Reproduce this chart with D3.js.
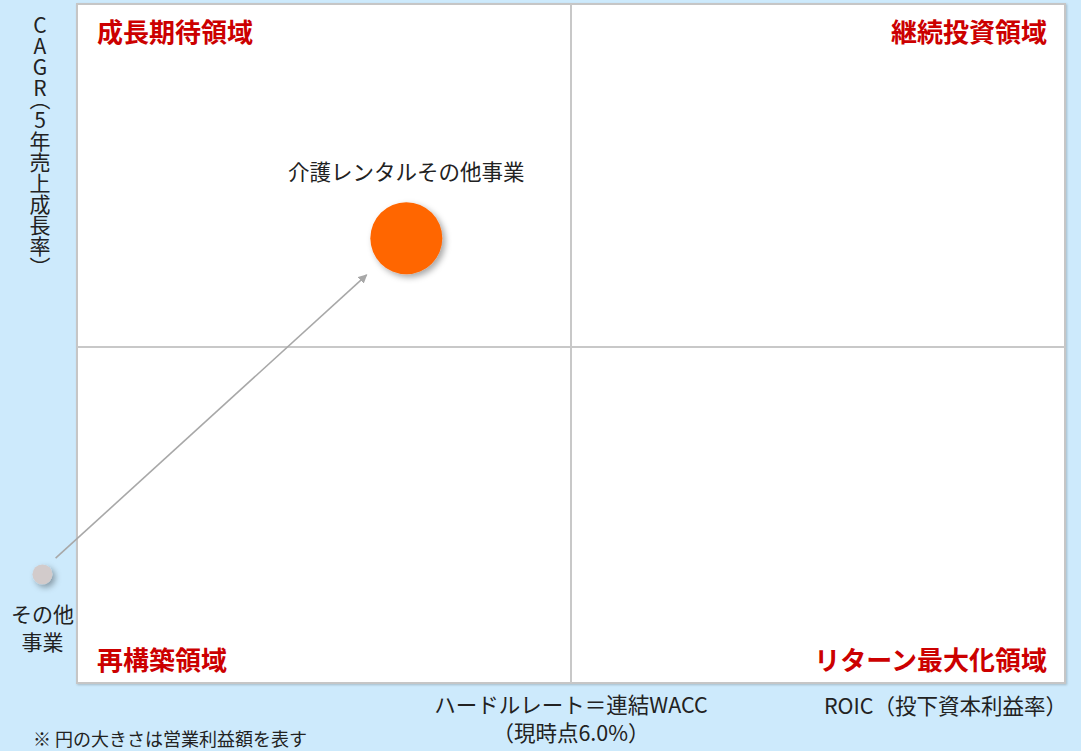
<!DOCTYPE html>
<html lang="ja">
<head>
<meta charset="utf-8">
<script src="https://cdn.jsdelivr.net/npm/d3@7/dist/d3.min.js"></script>
<style>
  html, body { margin: 0; padding: 0; background: #cdeafc; }
  svg { display: block; font-family: "Noto Sans CJK JP", "Noto Sans", sans-serif; }
</style>
</head>
<body>
<svg id="chart" width="1081" height="751"></svg>
<script>
// Business portfolio: ROIC vs. 5-year revenue CAGR, bubble size = operating profit
const segmentNames = ["その他事業", "介護レンタルその他事業"];
const segmentLabels = [["その他", "事業"], ["介護レンタルその他事業"]];
const roicValues = [-0.42, 4.0];        // ROIC (%)
const cagrValues = [3.2, 13.1];         // CAGR (%)
const profitValues = [1, 13];           // operating profit (relative)
const segmentColors = ["#d2cbcb", "#ff6600"];

const hurdleRate = 6.0;                 // WACC threshold on the ROIC axis
const growthThreshold = 9.9;            // CAGR threshold

const quadrantLabels = ["成長期待領域", "継続投資領域", "再構築領域", "リターン最大化領域"];
const xTitle = "ROIC（投下資本利益率）";
const yTitle = "CAGR（5年売上成長率）";
const hurdleLabel = ["ハードルレート＝連結WACC", "（現時点6.0%）"];
const footnote = "※ 円の大きさは営業利益額を表す";

const svg = d3.select("#chart");
const plot = { left: 77, top: 4, right: 1065, bottom: 683 };

const x = d3.scaleLinear().domain([0, 12]).range([plot.left, plot.right]);
const y = d3.scaleLinear().domain([0, 20]).range([plot.bottom, plot.top]);
const r = d3.scaleSqrt().domain([0, d3.max(profitValues)]).range([0, 36]);

const defs = svg.append("defs");
const sh = defs.append("filter").attr("id", "shadow")
  .attr("x", "-50%").attr("y", "-50%").attr("width", "200%").attr("height", "200%");
sh.append("feDropShadow").attr("dx", 3).attr("dy", 3).attr("stdDeviation", 3)
  .attr("flood-color", "#000").attr("flood-opacity", 0.35);
const boxSh = defs.append("filter").attr("id", "boxShadow")
  .attr("x", "-5%").attr("y", "-5%").attr("width", "110%").attr("height", "110%");
boxSh.append("feDropShadow").attr("dx", 1).attr("dy", 1).attr("stdDeviation", 1.2)
  .attr("flood-color", "#000").attr("flood-opacity", 0.2);

defs.append("marker").attr("id", "arrowHead")
  .attr("viewBox", "0 0 10 10").attr("refX", 9).attr("refY", 5)
  .attr("markerWidth", 9).attr("markerHeight", 9).attr("orient", "auto")
  .attr("markerUnits", "userSpaceOnUse")
  .append("path").attr("d", "M0,0 L10,5 L0,10 z").attr("fill", "#a8a8a8");

// plot area
svg.append("rect")
  .attr("x", plot.left).attr("y", plot.top)
  .attr("width", plot.right - plot.left).attr("height", plot.bottom - plot.top)
  .attr("fill", "#fff").attr("stroke", "#c6c6c6").attr("stroke-width", 2)
  .attr("filter", "url(#boxShadow)");

// quadrant dividers
svg.append("line")
  .attr("x1", x(hurdleRate)).attr("x2", x(hurdleRate))
  .attr("y1", plot.top).attr("y2", plot.bottom)
  .attr("stroke", "#c8c8c8").attr("stroke-width", 2);
svg.append("line")
  .attr("x1", plot.left).attr("x2", plot.right)
  .attr("y1", y(growthThreshold)).attr("y2", y(growthThreshold))
  .attr("stroke", "#c8c8c8").attr("stroke-width", 2);

// quadrant names
const qPos = [
  { x: plot.left + 20, y: 42, anchor: "start" },
  { x: plot.right - 18, y: 42, anchor: "end" },
  { x: plot.left + 20, y: 670, anchor: "start" },
  { x: plot.right - 18, y: 670, anchor: "end" }
];
svg.selectAll("text.quad").data(quadrantLabels).join("text")
  .attr("class", "quad")
  .attr("x", (d, i) => qPos[i].x).attr("y", (d, i) => qPos[i].y)
  .attr("text-anchor", (d, i) => qPos[i].anchor)
  .attr("font-size", 26).attr("font-weight", "bold").attr("fill", "#cc0000")
  .text(d => d);

// movement arrow from the previous position to the current one
const p0 = [x(roicValues[0]), y(cagrValues[0])];
const p1 = [x(roicValues[1]), y(cagrValues[1])];
const dx = p1[0] - p0[0], dy = p1[1] - p0[1];
const len = Math.hypot(dx, dy), ux = dx / len, uy = dy / len;
const s0 = r(profitValues[0]) + 8, s1 = r(profitValues[1]) + 18;
svg.append("line")
  .attr("x1", p0[0] + ux * s0).attr("y1", p0[1] + uy * s0 - 4)
  .attr("x2", p1[0] - ux * s1).attr("y2", p1[1] - uy * s1)
  .attr("stroke", "#a8a8a8").attr("stroke-width", 1.6)
  .attr("marker-end", "url(#arrowHead)");

// bubbles
const pts = segmentNames.map((n, i) => ({
  name: n, roic: roicValues[i], cagr: cagrValues[i], profit: profitValues[i],
  color: segmentColors[i], label: segmentLabels[i]
}));
svg.selectAll("circle.bubble").data(pts).join("circle")
  .attr("class", "bubble")
  .attr("cx", d => x(d.roic)).attr("cy", d => y(d.cagr))
  .attr("r", d => r(d.profit))
  .attr("fill", d => d.color)
  .attr("filter", "url(#shadow)");

// bubble labels
const small = pts[0];
small.label.forEach((line, i) => {
  svg.append("text")
    .attr("x", x(small.roic)).attr("y", y(small.cagr) + 48 + i * 28)
    .attr("text-anchor", "middle").attr("font-size", 21).attr("fill", "#222")
    .text(line);
});
const big = pts[1];
svg.append("text")
  .attr("x", x(big.roic)).attr("y", y(big.cagr) - 58)
  .attr("text-anchor", "middle").attr("font-size", 21.5).attr("fill", "#222")
  .text(big.label[0]);

// vertical axis title
svg.append("text")
  .attr("x", 40).attr("y", 15)
  .attr("font-size", 21).attr("fill", "#222")
  .style("writing-mode", "vertical-rl")
  .style("text-orientation", "upright")
  .style("font-feature-settings", "'vhal' 1")
  .text(yTitle);

// horizontal axis title
svg.append("text")
  .attr("x", 1067).attr("y", 714)
  .attr("text-anchor", "end").attr("font-size", 21.5).attr("fill", "#222")
  .text(xTitle);

// hurdle rate caption under the divider
svg.append("text")
  .attr("x", x(hurdleRate)).attr("y", 713)
  .attr("text-anchor", "middle").attr("font-size", 21.5).attr("fill", "#222")
  .text(hurdleLabel[0]);
svg.append("text")
  .attr("x", x(hurdleRate)).attr("y", 741)
  .attr("text-anchor", "middle").attr("font-size", 21.5).attr("fill", "#222")
  .text(hurdleLabel[1]);

svg.append("text")
  .attr("x", 33).attr("y", 746)
  .attr("font-size", 18).attr("fill", "#222")
  .text(footnote);
</script>
</body>
</html>
